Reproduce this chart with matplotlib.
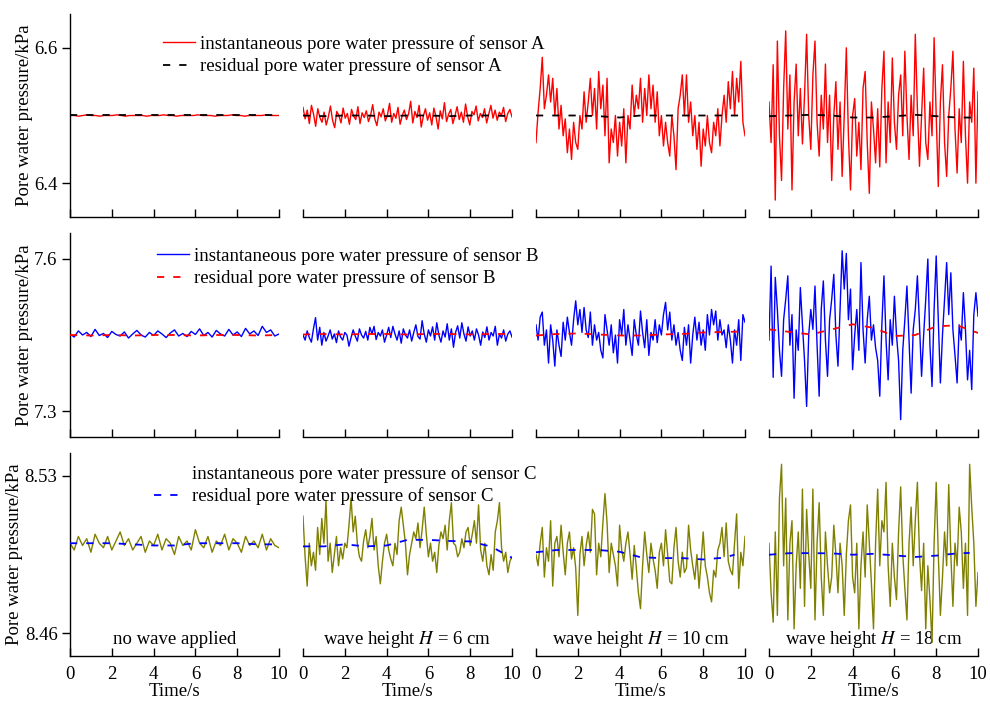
import numpy as np
import matplotlib
matplotlib.use('Agg')
import matplotlib.pyplot as plt
from matplotlib.lines import Line2D

plt.rcParams['font.family'] = ['Liberation Serif', 'DejaVu Serif']
plt.rcParams['mathtext.fontset'] = 'stix'
plt.rcParams['font.size'] = 13.5

# pore water pressure readings in Pa (sensor A / B / C, four wave conditions)
conditions = ['no wave applied', 'wave height $\\mathit{H}$ = 6 cm',
              'wave height $\\mathit{H}$ = 10 cm', 'wave height $\\mathit{H}$ = 18 cm']

a0 = [6500, 6500, 6499, 6500, 6501, 6500, 6500, 6499, 6500, 6500, 6500, 6501, 6500, 6499, 6500, 6500, 6500,
      6500, 6499, 6500, 6500, 6500, 6501, 6500, 6500, 6499, 6500, 6500, 6500, 6500, 6501, 6500, 6500, 6500,
      6499, 6500, 6500, 6500, 6501, 6500, 6500, 6499, 6500, 6500, 6500, 6500, 6501, 6500, 6500, 6500]
a6 = [6512, 6495, 6508, 6488, 6515, 6502, 6484, 6510, 6497, 6490, 6505, 6486, 6498, 6514, 6493, 6482, 6506,
      6500, 6489, 6511, 6496, 6503, 6487, 6509, 6499, 6494, 6513, 6488, 6504, 6497, 6507, 6491, 6500, 6516,
      6495, 6485, 6505, 6498, 6510, 6492, 6501, 6518, 6490, 6503, 6496, 6512, 6487, 6500, 6508, 6494, 6502,
      6521, 6489, 6506, 6497, 6515, 6483, 6499, 6510, 6493, 6504, 6486, 6511, 6498, 6480, 6507, 6495, 6519,
      6491, 6502, 6509, 6488, 6500, 6513, 6494, 6505, 6490, 6517, 6498, 6486, 6506, 6501, 6514, 6492, 6503,
      6497, 6510, 6489, 6502, 6515, 6496, 6508, 6493, 6505, 6500, 6512, 6491, 6503, 6509, 6498]
a10 = [6460, 6505, 6540, 6586, 6510, 6530, 6560, 6520, 6555, 6500, 6540, 6480, 6515, 6470, 6495, 6445, 6480,
       6435, 6490, 6460, 6450, 6500, 6480, 6535, 6490, 6520, 6555, 6500, 6540, 6480, 6565, 6510, 6545, 6470,
       6555, 6430, 6480, 6460, 6500, 6440, 6490, 6455, 6510, 6430, 6500, 6480, 6545, 6500, 6530, 6510, 6555,
       6490, 6540, 6500, 6560, 6510, 6545, 6490, 6535, 6470, 6500, 6455, 6490, 6460, 6440, 6500, 6470, 6420,
       6510, 6530, 6560, 6500, 6560, 6490, 6520, 6470, 6500, 6450, 6490, 6425, 6480, 6455, 6500, 6460, 6445,
       6490, 6470, 6510, 6455, 6500, 6530, 6490, 6550, 6510, 6565, 6500, 6555, 6520, 6580, 6490, 6470]
a18 = [6520, 6460, 6575, 6375, 6610, 6470, 6404, 6540, 6625, 6480, 6560, 6390, 6520, 6576, 6470, 6540, 6458,
       6530, 6620, 6500, 6450, 6560, 6610, 6490, 6440, 6530, 6480, 6576, 6460, 6530, 6404, 6500, 6550, 6450,
       6520, 6410, 6500, 6600, 6470, 6390, 6500, 6525, 6440, 6490, 6420, 6540, 6565, 6460, 6385, 6520, 6480,
       6430, 6510, 6424, 6540, 6595, 6430, 6520, 6460, 6585, 6490, 6450, 6530, 6560, 6470, 6595, 6500, 6435,
       6530, 6470, 6620, 6510, 6425, 6500, 6570, 6460, 6435, 6520, 6470, 6615, 6500, 6395, 6520, 6575, 6460,
       6410, 6500, 6540, 6595, 6480, 6415, 6510, 6460, 6580, 6470, 6400, 6520, 6490, 6570, 6400, 6535]

b0 = [7452, 7446, 7458, 7450, 7455, 7447, 7461, 7449, 7453, 7445, 7457, 7451, 7448, 7456, 7444, 7452, 7459,
      7450, 7446, 7455, 7449, 7458, 7452, 7445, 7454, 7460, 7448, 7453, 7447, 7457, 7451, 7462, 7449, 7455,
      7446, 7459, 7452, 7448, 7461, 7450, 7456, 7447, 7463, 7452, 7458, 7449, 7467, 7455, 7460, 7448, 7452]
b6 = [7450, 7440, 7458, 7445, 7436, 7462, 7484, 7440, 7465, 7430, 7455, 7438, 7448, 7460, 7442, 7452, 7435,
      7458, 7446, 7440, 7455, 7450, 7428, 7445, 7460, 7448, 7438, 7462, 7450, 7444, 7457, 7440, 7465, 7452,
      7467, 7441, 7455, 7448, 7460, 7436, 7450, 7465, 7445, 7467, 7452, 7440, 7458, 7434, 7462, 7450, 7444,
      7460, 7438, 7455, 7470, 7447, 7442, 7478, 7452, 7436, 7460, 7448, 7466, 7440, 7474, 7450, 7436, 7458,
      7446, 7472, 7440, 7462, 7426, 7455, 7468, 7444, 7474, 7452, 7438, 7466, 7448, 7458, 7440, 7462, 7450,
      7430, 7456, 7445, 7466, 7440, 7455, 7448, 7467, 7430, 7452, 7444, 7460, 7438, 7452, 7458, 7446]
b10 = [7470, 7440, 7485, 7495, 7430, 7460, 7395, 7470, 7440, 7389, 7460, 7430, 7408, 7475, 7440, 7485, 7455,
       7430, 7480, 7517, 7470, 7500, 7455, 7504, 7460, 7445, 7495, 7430, 7470, 7440, 7455, 7420, 7405, 7490,
       7460, 7430, 7470, 7415, 7450, 7395, 7480, 7450, 7500, 7430, 7470, 7440, 7410, 7480, 7450, 7430, 7497,
       7455, 7425, 7480, 7410, 7455, 7440, 7480, 7435, 7470, 7450, 7490, 7514, 7460, 7495, 7440, 7470, 7430,
       7455, 7420, 7400, 7465, 7430, 7470, 7395, 7450, 7485, 7440, 7475, 7430, 7460, 7420, 7490, 7450, 7500,
       7470, 7497, 7440, 7480, 7450, 7460, 7425, 7470, 7440, 7395, 7460, 7430, 7480, 7400, 7490, 7475]
b18 = [7440, 7585, 7367, 7563, 7500, 7420, 7369, 7480, 7520, 7566, 7430, 7490, 7326, 7460, 7420, 7543, 7470,
       7400, 7310, 7450, 7500, 7461, 7546, 7430, 7330, 7500, 7556, 7440, 7369, 7480, 7520, 7569, 7450, 7389,
       7500, 7615, 7540, 7610, 7480, 7540, 7382, 7450, 7500, 7420, 7592, 7460, 7395, 7480, 7526, 7440, 7470,
       7425, 7400, 7330, 7470, 7566, 7440, 7362, 7480, 7430, 7526, 7450, 7400, 7284, 7420, 7480, 7546, 7440,
       7336, 7460, 7500, 7566, 7470, 7369, 7450, 7520, 7599, 7430, 7349, 7500, 7605, 7480, 7356, 7450, 7520,
       7592, 7490, 7572, 7460, 7410, 7356, 7470, 7440, 7533, 7460, 7362, 7420, 7343, 7490, 7533, 7487]

c0 = [8500, 8497, 8503, 8499, 8502, 8496, 8504, 8500, 8498, 8503, 8497, 8501, 8505, 8499, 8502, 8497, 8500,
      8503, 8496, 8501, 8499, 8504, 8497, 8502, 8500, 8495, 8503, 8499, 8501, 8497, 8506, 8500, 8498, 8503,
      8496, 8501, 8499, 8504, 8497, 8502, 8500, 8496, 8503, 8499, 8501, 8498, 8504, 8497, 8502, 8499, 8498]
c6 = [8512, 8494, 8481, 8500, 8490, 8496, 8488, 8507, 8495, 8511, 8500, 8519, 8492, 8500, 8487, 8495, 8503,
      8490, 8498, 8493, 8500, 8498, 8508, 8520, 8505, 8512, 8500, 8494, 8492, 8501, 8506, 8498, 8503, 8511,
      8497, 8503, 8490, 8482, 8492, 8500, 8504, 8497, 8493, 8490, 8500, 8495, 8510, 8516, 8508, 8500, 8486,
      8495, 8500, 8505, 8502, 8509, 8498, 8506, 8516, 8504, 8494, 8500, 8492, 8496, 8487, 8499, 8505, 8502,
      8508, 8497, 8510, 8518, 8500, 8499, 8494, 8496, 8502, 8498, 8505, 8507, 8499, 8504, 8510, 8500, 8517,
      8497, 8492, 8500, 8490, 8486, 8495, 8488, 8505, 8510, 8518, 8498, 8492, 8496, 8487, 8492, 8494]
c10 = [8495, 8490, 8500, 8507, 8485, 8498, 8492, 8510, 8481, 8500, 8503, 8494, 8508, 8496, 8486, 8500, 8505,
       8493, 8498, 8489, 8468, 8495, 8503, 8490, 8499, 8505, 8496, 8515, 8513, 8486, 8500, 8494, 8509, 8522,
       8509, 8487, 8500, 8495, 8490, 8481, 8508, 8497, 8492, 8500, 8505, 8495, 8484, 8499, 8489, 8478, 8471,
       8490, 8505, 8495, 8487, 8500, 8493, 8488, 8480, 8496, 8500, 8490, 8506, 8495, 8483, 8482, 8498, 8507,
       8492, 8485, 8496, 8487, 8489, 8508, 8497, 8490, 8484, 8495, 8480, 8492, 8505, 8490, 8485, 8478, 8474,
       8488, 8485, 8497, 8500, 8507, 8494, 8509, 8492, 8488, 8486, 8500, 8513, 8480, 8496, 8490, 8503]
c18 = [8500, 8478, 8465, 8505, 8468, 8520, 8535, 8490, 8520, 8466, 8500, 8510, 8462, 8490, 8505, 8480, 8524,
       8472, 8515, 8495, 8480, 8524, 8466, 8500, 8518, 8485, 8468, 8505, 8490, 8478, 8485, 8508, 8495, 8478,
       8500, 8490, 8468, 8495, 8510, 8517, 8485, 8478, 8500, 8462, 8490, 8505, 8485, 8517, 8500, 8482, 8462,
       8500, 8524, 8490, 8510, 8505, 8527, 8490, 8472, 8500, 8485, 8475, 8505, 8525, 8495, 8480, 8466, 8500,
       8516, 8490, 8510, 8527, 8495, 8479, 8500, 8462, 8490, 8475, 8456, 8500, 8527, 8495, 8468, 8485, 8505,
       8490, 8526, 8495, 8472, 8500, 8490, 8516, 8505, 8480, 8500, 8468, 8535, 8516, 8500, 8472, 8487]

# residual (smoothed) pore pressure, Pa, with its own time stamps
res_t = [0, 1, 2, 3, 4, 5, 6, 7, 8, 9, 10]
ra0 = [6500, 6500, 6500, 6500, 6500, 6500, 6500, 6500, 6500, 6500, 6500]
ra6 = [6500, 6499, 6500, 6500, 6499, 6500, 6500, 6499, 6500, 6500, 6499]
ra10 = [6500, 6500, 6500, 6499, 6497, 6500, 6500, 6500, 6500, 6500, 6500]
ra18 = [6499, 6500, 6501, 6500, 6497, 6497, 6499, 6501, 6499, 6497, 6497]
rb0 = [7450, 7449, 7450, 7449, 7450, 7450, 7449, 7450, 7450, 7449, 7450]
rb6 = [7451, 7452, 7451, 7452, 7452, 7451, 7452, 7452, 7451, 7452, 7452]
rb10 = [7449, 7452, 7453, 7451, 7449, 7449, 7451, 7452, 7455, 7456, 7457]
rb18 = [7461, 7456, 7451, 7461, 7471, 7464, 7448, 7450, 7467, 7469, 7454]
rc0 = [8500, 8500, 8500, 8499.5, 8499, 8499, 8500, 8500, 8500, 8499.5, 8499.5]
rc6 = [8498.6, 8498.6, 8499.5, 8498.6, 8499, 8501.5, 8501.5, 8501, 8500.8, 8498.5, 8493.5]
rc10_t = [0, 1, 2, 3, 4, 5, 6, 7, 8, 9, 9.5]
rc10 = [8496, 8497, 8497, 8497, 8496.2, 8493.8, 8493.4, 8493.4, 8492.8, 8493.6, 8494.9]
rc18_t = [0, 1, 2, 3, 4, 5, 6, 7, 8, 9, 9.6]
rc18 = [8494.9, 8495.6, 8495.6, 8495.5, 8494.9, 8495.3, 8494.6, 8493.9, 8494.5, 8495.5, 8495.7]

rows = [
    dict(inst=[a0, a6, a10, a18], res=[(res_t, ra0), (res_t, ra6), (res_t, ra10), (res_t, ra18)],
         c_inst='red', c_res='black', ylim=(6.35, 6.65), yticks=[6.4, 6.6], fmt='%.1f', sensor='A',
         leg=(163, 35), show_inst_handle=True),
    dict(inst=[b0, b6, b10, b18], res=[(res_t, rb0), (res_t, rb6), (res_t, rb10), (res_t, rb18)],
         c_inst='blue', c_res='red', ylim=(7.25, 7.65), yticks=[7.3, 7.6], fmt='%.1f', sensor='B',
         leg=(157, 247), show_inst_handle=True),
    dict(inst=[c0, c6, c10, c18], res=[(res_t, rc0), (res_t, rc6), (rc10_t, rc10), (rc18_t, rc18)],
         c_inst='#808000', c_res='blue', ylim=(8.45, 8.54), yticks=[8.46, 8.53], fmt='%.2f', sensor='C',
         leg=(154, 465), show_inst_handle=False),
]

W, H = 990, 702
fig = plt.figure(figsize=(9.9, 7.02), dpi=100)
col_left = [70, 303, 536, 769]
row_top = [14, 233, 453]
row_bot = [217, 437, 656]
pw = 209

for r, row in enumerate(rows):
    for c in range(4):
        ax = fig.add_axes([col_left[c] / W, 1 - row_bot[r] / H, pw / W, (row_bot[r] - row_top[r]) / H])
        vals = np.array(row['inst'][c]) / 1000.0
        t = np.linspace(0, 10, len(vals))
        ax.plot(t, vals, color=row['c_inst'], lw=1.0, zorder=2)
        rt, rv = row['res'][c]
        ax.plot(rt, np.array(rv) / 1000.0, color=row['c_res'], lw=1.3, ls=(0, (4, 5)), zorder=3)
        ax.set_xlim(0, 10)
        ax.set_ylim(*row['ylim'])
        ax.set_xticks([0, 2, 4, 6, 8, 10])
        for s in ['top', 'right']:
            ax.spines[s].set_visible(False)
        ax.spines['bottom'].set_linewidth(1)
        ax.tick_params(axis='x', direction='in', length=6, width=1, pad=7,
                       labelbottom=(r == 2))
        if c == 0:
            ax.set_yticks(row['yticks'])
            ax.yaxis.set_major_formatter(matplotlib.ticker.FormatStrFormatter(row['fmt']))
            ax.tick_params(axis='y', direction='out', length=6, width=1, pad=3)
            ax.set_ylabel('Pore water pressure/kPa', labelpad=1)
            ax.spines['left'].set_linewidth(1)
        else:
            ax.spines['left'].set_visible(False)
            ax.tick_params(axis='y', left=False, labelleft=False)
        if r == 2:
            ax.set_xlabel('Time/s', labelpad=0)
            ax.text(0.5, 0.08, conditions[c], transform=ax.transAxes, ha='center', va='center', zorder=1)

    h1 = Line2D([], [], color=row['c_inst'] if row['show_inst_handle'] else 'none', lw=1)
    h2 = Line2D([], [], color=row['c_res'], lw=1.3, ls=(0, (4, 5)))
    lx, ly = row['leg']
    fig.legend([h1, h2],
               ['instantaneous pore water pressure of sensor ' + row['sensor'],
                'residual pore water pressure of sensor ' + row['sensor']],
               loc='upper left', bbox_to_anchor=(lx / W, 1 - ly / H), frameon=False,
               borderpad=0, borderaxespad=0, handlelength=1.7, handletextpad=0.3, labelspacing=0.25)

fig.savefig('out.png', dpi=100)
